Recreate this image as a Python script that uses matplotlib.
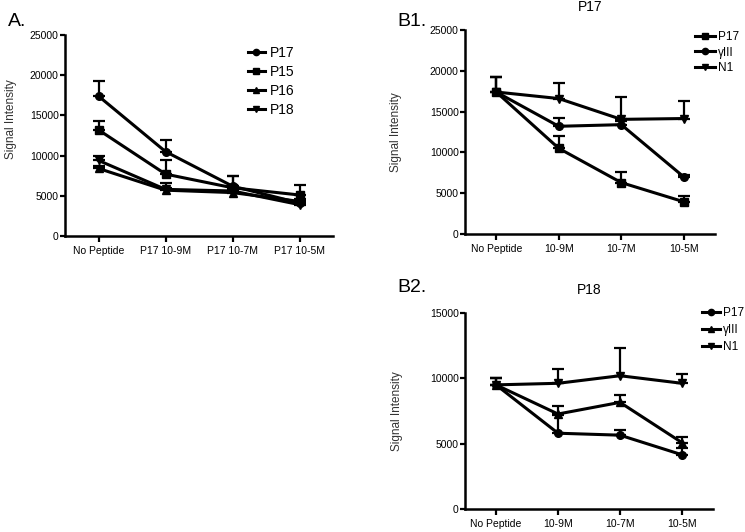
import numpy as np
import matplotlib
matplotlib.use('Agg')
import matplotlib.pyplot as plt
from matplotlib.lines import Line2D

plt.rcParams['font.family'] = ['Liberation Sans', 'DejaVu Sans']

# panel A
a_cats = ['No Peptide', 'P17 10-9M', 'P17 10-7M', 'P17 10-5M']
a_names = ['P17', 'P15', 'P16', 'P18']
a_p17 = [17400, 10500, 6200, 4100]
a_p17_err = [1900, 1400, 1300, 300]
a_p15 = [13200, 7700, 6000, 5100]
a_p15_err = [1100, 1700, 1500, 1200]
a_p16 = [8400, 5700, 5400, 4300]
a_p16_err = [300, 300, 300, 300]
a_p18 = [9400, 5800, 5600, 3900]
a_p18_err = [600, 800, 500, 300]

# panel B1 (P17)
b_cats = ['No Peptide', '10-9M', '10-7M', '10-5M']
b_names = ['P17', '\u03b3III', 'N1']
b1_p17 = [17400, 10500, 6300, 3950]
b1_p17_err = [1900, 1500, 1300, 700]
b1_g3 = [17400, 13200, 13400, 7000]
b1_g3_err = [1900, 1000, 400, 200]
b1_n1 = [17400, 16600, 14050, 14150]
b1_n1_err = [1900, 1900, 2750, 2100]

# panel B2 (P18)
b2_p17 = [9500, 5800, 5650, 4150]
b2_p17_err = [500, 1400, 400, 500]
b2_g3 = [9500, 7270, 8160, 5080]
b2_g3_err = [500, 650, 550, 460]
b2_n1 = [9500, 9620, 10200, 9620]
b2_n1_err = [500, 1100, 2100, 700]


def panel(ax, cats, series, markers, ymax, step):
    x = np.arange(len(cats))
    handles = []
    for (name, y, e), m in zip(series, markers):
        ax.errorbar(x, y, yerr=[np.zeros(len(e)), e], color='black', lw=2.2,
                    marker=m, ms=5.5, capsize=4, capthick=1.6, elinewidth=1.6)
        handles.append(Line2D([], [], color='black', lw=2.2, marker=m, ms=4.5,
                              label=name))
    ax.set_xlim(-0.5, 3.5)
    ax.set_ylim(0, ymax)
    ax.set_xticks(x)
    ax.set_xticklabels(cats, fontsize=7.5)
    ax.set_yticks(np.arange(0, ymax + 1, step))
    ax.tick_params(axis='y', labelsize=7.5, length=3.5, width=1.6, pad=1)
    ax.tick_params(axis='x', length=4, width=1.6, pad=3)
    for s in ['top', 'right']:
        ax.spines[s].set_visible(False)
    for s in ['left', 'bottom']:
        ax.spines[s].set_linewidth(1.8)
    ax.set_ylabel('Signal Intensity', fontsize=8.5, color='#333333')
    return handles


fig = plt.figure(figsize=(7.45, 5.32), dpi=100)

axA = fig.add_axes([65 / 745, 1 - 236 / 532, 268 / 745, 201 / 532])
hA = panel(axA, a_cats,
           [('P17', a_p17, a_p17_err), ('P15', a_p15, a_p15_err),
            ('P16', a_p16, a_p16_err), ('P18', a_p18, a_p18_err)],
           ['o', 's', '^', 'v'], 25000, 5000)
axA.yaxis.set_label_coords(-0.18, 0.58)
fig.legend(handles=hA, loc='upper left', bbox_to_anchor=(248 / 745, 1 - 46 / 532),
           frameon=False, fontsize=10, handlelength=1.2, handletextpad=0.35,
           labelspacing=0.36, borderpad=0, borderaxespad=0)

axB1 = fig.add_axes([465 / 745, 1 - 234 / 532, 250 / 745, 204 / 532])
hB1 = panel(axB1, b_cats,
            [('P17', b1_p17, b1_p17_err), ('\u03b3III', b1_g3, b1_g3_err),
             ('N1', b1_n1, b1_n1_err)],
            ['s', 'o', 'v'], 25000, 5000)
axB1.yaxis.set_label_coords(-0.25, 0.5)
axB1.set_title('P17', fontsize=10, pad=14)
fig.legend(handles=hB1, loc='upper left', bbox_to_anchor=(695 / 745, 1 - 31 / 532),
           frameon=False, fontsize=8.5, handlelength=1.7, handletextpad=0.25,
           labelspacing=0.3, borderpad=0, borderaxespad=0)

axB2 = fig.add_axes([465 / 745, 1 - 509 / 532, 248 / 745, 196 / 532])
hB2 = panel(axB2, b_cats,
            [('P17', b2_p17, b2_p17_err), ('\u03b3III', b2_g3, b2_g3_err),
             ('N1', b2_n1, b2_n1_err)],
            ['o', '^', 'v'], 15000, 5000)
axB2.yaxis.set_label_coords(-0.25, 0.5)
axB2.set_title('P18', fontsize=10, pad=14)
fig.legend(handles=hB2, loc='upper left', bbox_to_anchor=(702 / 745, 1 - 307 / 532),
           frameon=False, fontsize=8.5, handlelength=1.5, handletextpad=0.25,
           labelspacing=0.44, borderpad=0, borderaxespad=0)

fig.text(8 / 745, 1 - 22 / 532, 'A.', fontsize=14, va='center')
fig.text(397 / 745, 1 - 22 / 532, 'B1.', fontsize=14, va='center')
fig.text(397 / 745, 1 - 288 / 532, 'B2.', fontsize=14, va='center')

fig.savefig('out.png', dpi=100)
